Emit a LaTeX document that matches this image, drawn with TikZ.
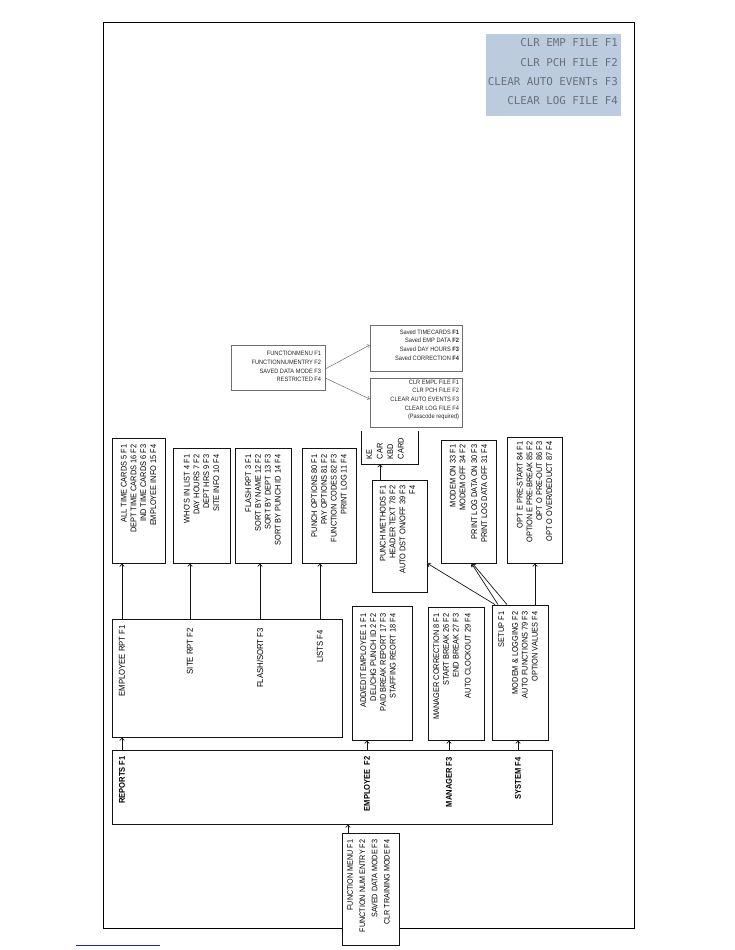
\documentclass[tikz,border=0pt]{standalone}
\usepackage{fontspec}
\setmainfont{Liberation Sans}[FakeStretch=0.9]
\newfontfamily\lcdfont{DejaVu Sans Mono}
\usepackage{tikz}
\usetikzlibrary{arrows.meta, shadows}
\definecolor{lcdblue}{RGB}{188,203,222}
\definecolor{lcdtext}{RGB}{105,112,122}
\definecolor{linkblue}{RGB}{20,40,210}
\definecolor{boxline}{RGB}{20,20,20}
\definecolor{rline}{RGB}{110,110,110}
\tikzset{
  menubox/.style={rectangle, draw=boxline, fill=white, line width=0.9pt,
    inner sep=0pt, drop shadow={shadow xshift=1.2pt, shadow yshift=-1.2pt, opacity=0.25}},
  rbox/.style={rectangle, draw=rline, fill=white, line width=0.5pt,
    inner sep=0pt, drop shadow={shadow xshift=1.2pt, shadow yshift=-1.2pt, opacity=0.25}},
  vtext/.style={rotate=90, anchor=east, align=right, inner sep=0pt,
    font=\fontsize{8.2}{9.8}\selectfont},
  vlabel/.style={rotate=90, anchor=east, inner sep=0pt,
    font=\fontsize{8.6}{9}\selectfont},
  mainlabel/.style={rotate=90, anchor=east, inner sep=0pt,
    font=\fontsize{8.4}{9}\selectfont\bfseries},
  smalltext/.style={anchor=east, align=right, inner sep=0pt, text=black!85,
    font=\fontsize{6.3}{8.7}\selectfont},
  arr/.style={-{Straight Barb[length=2.5pt, width=4.5pt]}, line width=0.7pt, color=boxline},
  thinarr/.style={-{Straight Barb[length=2pt, width=3.5pt]}, line width=0.5pt, color=rline}
}

\begin{document}
\begin{tikzpicture}[x=1pt, y=-1pt]
  \useasboundingbox (0,0) rectangle (734,950);

  % outer frame
  \draw[line width=0.9pt] (103,22) rectangle (634,928);
  \draw[linkblue, line width=1pt] (76,945) -- (160,945);

  % LCD panel (top right)
  \node[fill=lcdblue, minimum width=135pt, minimum height=82pt, inner sep=0pt] (lcdpanel) at (553.5,75) {};
  \node[anchor=east, align=right, inner sep=0pt, text=lcdtext,
    font=\lcdfont\fontsize{10.8}{19.3}\selectfont] (lcdtxt) at ([xshift=-3pt, yshift=3pt]lcdpanel.east)
    {CLR EMP FILE F1\\CLR PCH FILE F2\\CLEAR AUTO EVENTs F3\\CLEAR LOG FILE F4};

  % ---- restricted menu (upright) ----
  \node[rbox, minimum width=94pt, minimum height=45pt] (rmenu) at (278,367.5) {};
  \node[smalltext] (rmenu-t) at ([xshift=-4pt, yshift=1pt]rmenu.east)
    {FUNCTIONMENU F1\\FUNCTIONNUMENTRY F2\\SAVED DATA MODE F3\\RESTRICTED F4};
  \node[rbox, minimum width=92pt, minimum height=46pt] (saved) at (416,348) {};
  \node[smalltext] (saved-t) at ([xshift=-3pt, yshift=3pt]saved.east)
    {Saved TIMECARDS \textbf{F1}\\Saved EMP DATA \textbf{F2}\\Saved DAY HOURS \textbf{F3}\\Saved CORRECTION \textbf{F4}};
  \node[rbox, minimum width=92pt, minimum height=49pt] (clr) at (416,402.5) {};
  \node[smalltext] (clr-t) at ([xshift=-3pt, yshift=2.5pt]clr.east)
    {CLR EMPL FILE F1\\CLR PCH FILE F2\\CLEAR AUTO EVENTS F3\\CLEAR LOG FILE F4\\(Passcode required)};
  \draw[thinarr] ([yshift=-1.5pt]rmenu.east) -- ([yshift=3pt]saved.west);
  \draw[thinarr] ([yshift=-10.5pt]rmenu.east) -- ([yshift=3.5pt]clr.west);

  % ---- main menu ----
  \node[menubox, minimum width=440pt, minimum height=74pt] (mainmenu) at (332,787) {};
  \node[mainlabel] (lblrep) at (122,756) {REPORTS F1};
  \node[mainlabel] (lblemp) at (367,756) {EMPLOYEE\ \ F2};
  \node[mainlabel] (lblmgr) at (449,757) {MANAGER F3};
  \node[mainlabel] (lblsys) at (518,757) {SYSTEM F4};

  % mode menu below
  \node[menubox, minimum width=57pt, minimum height=112pt] (fnbox) at (370.5,889) {};
  \node[vtext, font=\fontsize{8}{12.3}\selectfont] (fnbox-t) at ([xshift=-2pt, yshift=-7pt]fnbox.north)
    {FUNCTION MENU F1\\FUNCTION NUM ENTRY F2\\SAVED DATA MODE F3\\CLR TRAINING MODE F4};
  \draw[arr] ([xshift=-22.5pt]fnbox.north) -- ([xshift=-22.5pt]fnbox.north |- mainmenu.south);

  % ---- second level ----
  \node[menubox, minimum width=230pt, minimum height=118pt] (rptbox) at (227,678) {};
  \node[vlabel] (lblemprpt) at (122,625) {EMPLOYEE RPT F1};
  \node[vlabel] (lblsiterpt) at (190,628) {SITE RPT F2};
  \node[vlabel] (lblflash) at (260,628) {FLASH/SORT F3};
  \node[vlabel] (lbllists) at (320,630) {LISTS F4};

  \node[menubox, minimum width=60pt, minimum height=134pt] (empbox) at (382,673) {};
  \node[vtext] (empbox-t) at ([xshift=-4pt, yshift=-8pt]empbox.north)
    {ADD/EDIT EMPLOYEE 1 F1\\DEL/CHG PUNCH ID 2 F2\\PAID BREAK REPORT 17 F3\\STAFFING REORT 18 F4};
  \node[menubox, minimum width=56pt, minimum height=133pt] (mgrbox) at (456,673.5) {};
  \node[vtext] (mgrbox-t) at ([xshift=-4pt, yshift=-7pt]mgrbox.north)
    {MANAGER CORRECTION 8 F1\\START BREAK 26 F2\\END BREAK 27 F3\\[2pt]AUTO CLOCKOUT 29 F4};
  \node[menubox, minimum width=56pt, minimum height=135pt] (sysbox) at (520,672.5) {};
  \node[vtext] (sysbox-t) at ([xshift=-2pt, yshift=-7pt]sysbox.north)
    {SETUP F1\\[4pt]MODEM \& LOGGING F2\\AUTO FUNCTIONS 79 F3\\OPTION VALUES F4};

  \draw[arr] (lblrep |- mainmenu.north) -- (lblrep |- rptbox.south);
  \draw[arr] (lblemp |- mainmenu.north) -- (lblemp |- empbox.south);
  \draw[arr] (lblmgr |- mainmenu.north) -- (lblmgr |- mgrbox.south);
  \draw[arr] (lblsys |- mainmenu.north) -- (lblsys |- sysbox.south);

  % ---- report sub menus ----
  \node[menubox, minimum width=53pt, minimum height=125pt] (allcards) at (138.5,500.5) {};
  \node[vtext] (allcards-t) at ([yshift=-7pt]allcards.north)
    {ALL TIME CARDS 5 F1\\DEPT TIME CARDS 16 F2\\IND TIME CARDS 6 F3\\EMPLOYEE INFO 15 F4};
  \node[menubox, minimum width=57pt, minimum height=115pt] (whosin) at (201.5,505.5) {};
  \node[vtext] (whosin-t) at ([yshift=-7pt]whosin.north)
    {WHO'S IN LIST 4 F1\\DAY HOURS 7 F2\\DEPT HRS 9 F3\\SITE INFO 10 F4};
  \node[menubox, minimum width=56pt, minimum height=115pt] (flashrpt) at (263,505.5) {};
  \node[vtext] (flashrpt-t) at ([yshift=-7pt]flashrpt.north)
    {FLASH RPT 3 F1\\SORT BY NAME 12 F2\\SORT BY DEPT 13 F3\\SORT BY PUNCH ID 14 F4};
  \node[menubox, minimum width=54pt, minimum height=115pt] (punchopt) at (329,505.5) {};
  \node[vtext] (punchopt-t) at ([yshift=-7pt]punchopt.north)
    {PUNCH OPTIONS 80 F1\\PAY OPTIONS 81 F2\\FUNCTION CODES 82 F3\\PRINT LOG 11 F4};

  \draw[arr] (lblemprpt |- rptbox.north) -- (lblemprpt |- allcards.south);
  \draw[arr] (lblsiterpt |- rptbox.north) -- (lblsiterpt |- whosin.south);
  \draw[arr] (lblflash |- rptbox.north) -- (lblflash |- flashrpt.south);
  \draw[arr] (lbllists |- rptbox.north) -- (lbllists |- punchopt.south);

  % ---- system sub menus ----
  \node[minimum width=56pt, minimum height=33pt, inner sep=0pt] (kbox) at (390,447.5) {};
  \draw[line width=0.9pt, boxline] (kbox.north west) -- (kbox.south west) -- (kbox.south east) -- (kbox.north east);
  \node[rotate=90, anchor=west, align=left, inner sep=0pt, font=\fontsize{8.2}{10.5}\selectfont]
    (kbox-t) at ([xshift=-5pt, yshift=5pt]kbox.south) {KE\\CAR\\KBD\\CARD};
  \node[menubox, minimum width=55pt, minimum height=112pt] (punchmeth) at (399.5,536) {};
  \node[vtext] (punchmeth-t) at ([xshift=-2pt, yshift=-6pt]punchmeth.north)
    {PUNCH METHODS F1\\HEADER TEXT 78 F2\\AUTO DST ON/OFF 39 F3\\F4};
  \node[menubox, minimum width=55pt, minimum height=123pt] (modembox) at (468.5,501.5) {};
  \node[vtext] (modembox-t) at ([yshift=-5pt]modembox.north)
    {MODEM ON 33 F1\\MODEM OFF 34 F2\\[2pt]PRINT LOG DATA ON 30 F3\\PRINT LOG DATA OFF 31 F4};
  \node[menubox, minimum width=55pt, minimum height=126pt] (optbox) at (534.5,500) {};
  \node[vtext] (optbox-t) at ([yshift=-5pt]optbox.north)
    {OPT E PRE-START 84 F1\\OPTION E PRE-BREAK 85 F2\\OPT O PRE-OUT 86 F3\\OPT O OVER/DEDUCT 87 F4};

  \draw[arr] ([xshift=-19.5pt]punchmeth.north) -- ([xshift=-19.5pt]punchmeth.north |- kbox.south);
  \draw[arr] ([xshift=-25pt]sysbox.north) -- ([yshift=29pt]punchmeth.south east);
  \draw[arr] ([xshift=-22pt]sysbox.north) -- ([xshift=3pt]modembox.south);
  \draw[arr] ([xshift=-13pt]sysbox.north) -- ([xshift=4pt]modembox.south);
  \draw[arr] ([xshift=15pt]sysbox.north) -- ([xshift=15pt]sysbox.north |- optbox.south);
\end{tikzpicture}
\end{document}
